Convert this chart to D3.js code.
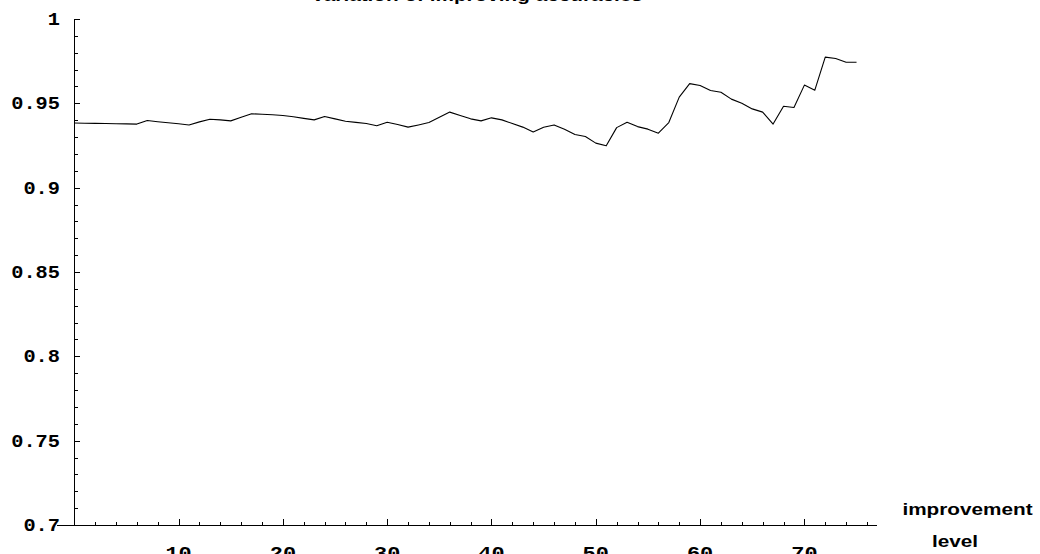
<!DOCTYPE html>
<html><head><meta charset="utf-8">
<script src="https://cdn.jsdelivr.net/npm/d3@7/dist/d3.min.js"></script>
<style>body{margin:0;background:#fff}svg{display:block}</style>
</head><body>
<svg id="c" width="1040" height="554"></svg>
<script>
// ---- data ----
const levels = [0,1,2,3,4,5,6,7,8,9,10,11,12,13,14,15,16,17,18,19,20,21,22,23,24,25,26,27,28,29,30,31,32,33,34,35,36,37,38,39,40,41,42,43,44,45,46,47,48,49,50,51,52,53,54,55,56,57,58,59,60,61,62,63,64,65,66,67,68,69,70,71,72,73,74,75];
const accuracy = [0.9383,0.9382,0.9381,0.9380,0.9379,0.9378,0.9377,0.9398,0.9391,0.9385,
  0.9379,0.9372,0.9390,0.9406,0.9402,0.9396,0.9417,0.9438,0.9435,0.9432,
  0.9428,0.9420,0.9411,0.9402,0.9422,0.9408,0.9394,0.9387,0.9380,0.9367,
  0.9388,0.9374,0.9359,0.9372,0.9386,0.9417,0.9448,0.9428,0.9408,0.9396,
  0.9414,0.9402,0.9380,0.9359,0.9330,0.9358,0.9372,0.9346,0.9315,0.9303,
  0.9264,0.9248,0.9356,0.9388,0.9362,0.9347,0.9323,0.9386,0.9537,0.9617,
  0.9606,0.9576,0.9566,0.9525,0.9501,0.9467,0.9448,0.9377,0.9483,0.9475,
  0.9608,0.9578,0.9774,0.9766,0.9744,0.9744];
const xMajorTicks = [10,20,30,40,50,60,70];
const xMinorTicks = [2,4,6,8,12,14,16,18,22,24,26,28,32,34,36,38,42,44,46,48,52,54,56,58,62,64,66,68,72,74,76];
const yMajorTicks = [0.7,0.75,0.8,0.85,0.9,0.95,1];
const yMinorTicks = [0.71,0.72,0.73,0.74,0.76,0.77,0.78,0.79,0.81,0.82,0.83,0.84,0.86,0.87,0.88,0.89,0.91,0.92,0.93,0.94,0.96,0.97,0.98,0.99];
const titleText = "Variation of improving accuracies";
const xLabel = ["improvement","level"];

// ---- layout ----
const svg = d3.select("#c");
const x = d3.scaleLinear().domain([0,77]).range([74.3, 877.4]);
const y = d3.scaleLinear().domain([0.7,1]).range([525, 19]);
const SX = 1.22; // horizontal stretch of the original rendering
const monoFont = "'Liberation Mono', 'DejaVu Sans Mono', monospace";
const sansFont = "'Liberation Sans', Arial, Helvetica, sans-serif";

function stretchedText(tx, ty, str, opts){
  return svg.append("text")
    .attr("transform", `translate(${tx},${ty}) scale(${opts.sx||SX},1)`)
    .attr("text-anchor", opts.anchor||"middle")
    .attr("font-family", opts.family)
    .attr("font-weight", "bold")
    .attr("font-size", opts.size)
    .attr("fill", "#000")
    .text(str);
}

// title (mostly cropped at top)
stretchedText(477, 1, titleText, {family: sansFont, size: 17});

// axes lines
const axes = svg.append("g").attr("stroke","#000").attr("stroke-width",1).attr("shape-rendering","crispEdges");
axes.append("line").attr("x1", 57).attr("x2", x(77)).attr("y1", y(0.7)+0.5).attr("y2", y(0.7)+0.5);
axes.append("line").attr("x1", x(0)).attr("x2", x(0)).attr("y1", y(0.7)).attr("y2", y(1));

// x ticks
axes.selectAll(".xM").data(xMajorTicks).join("line")
  .attr("x1", d => Math.round(x(d))+0.5).attr("x2", d => Math.round(x(d))+0.5)
  .attr("y1", y(0.7)).attr("y2", y(0.7)-6);
axes.selectAll(".xm").data(xMinorTicks).join("line")
  .attr("x1", d => Math.round(x(d))+0.5).attr("x2", d => Math.round(x(d))+0.5)
  .attr("y1", y(0.7)).attr("y2", y(0.7)-3.5);
// y ticks
axes.selectAll(".yM").data(yMajorTicks).join("line")
  .attr("x1", x(0)).attr("x2", x(0)+6)
  .attr("y1", d => Math.round(y(d))+0.5).attr("y2", d => Math.round(y(d))+0.5);
axes.selectAll(".ym").data(yMinorTicks).join("line")
  .attr("x1", x(0)).attr("x2", x(0)+4)
  .attr("y1", d => Math.round(y(d))+0.5).attr("y2", d => Math.round(y(d))+0.5);

// tick labels
const fmt = d => String(+d.toFixed(2));
xMajorTicks.forEach(d => stretchedText(x(d), y(0.7)+34, fmt(d), {family: monoFont, size: 18}));
yMajorTicks.forEach(d => stretchedText(60, y(d)+6, fmt(d), {family: monoFont, size: 18, anchor: "end", sx: 1.13}));

// axis label
stretchedText(967.5, 515, xLabel[0], {family: sansFont, size: 17});
stretchedText(955, 546.5, xLabel[1], {family: sansFont, size: 17});

// line
const line = d3.line().x((d,i) => x(levels[i])).y(d => y(d));
svg.append("path").datum(accuracy)
  .attr("d", line)
  .attr("fill","none").attr("stroke","#000").attr("stroke-width",1.1)
  .attr("stroke-linejoin","round");
</script>
</body></html>
